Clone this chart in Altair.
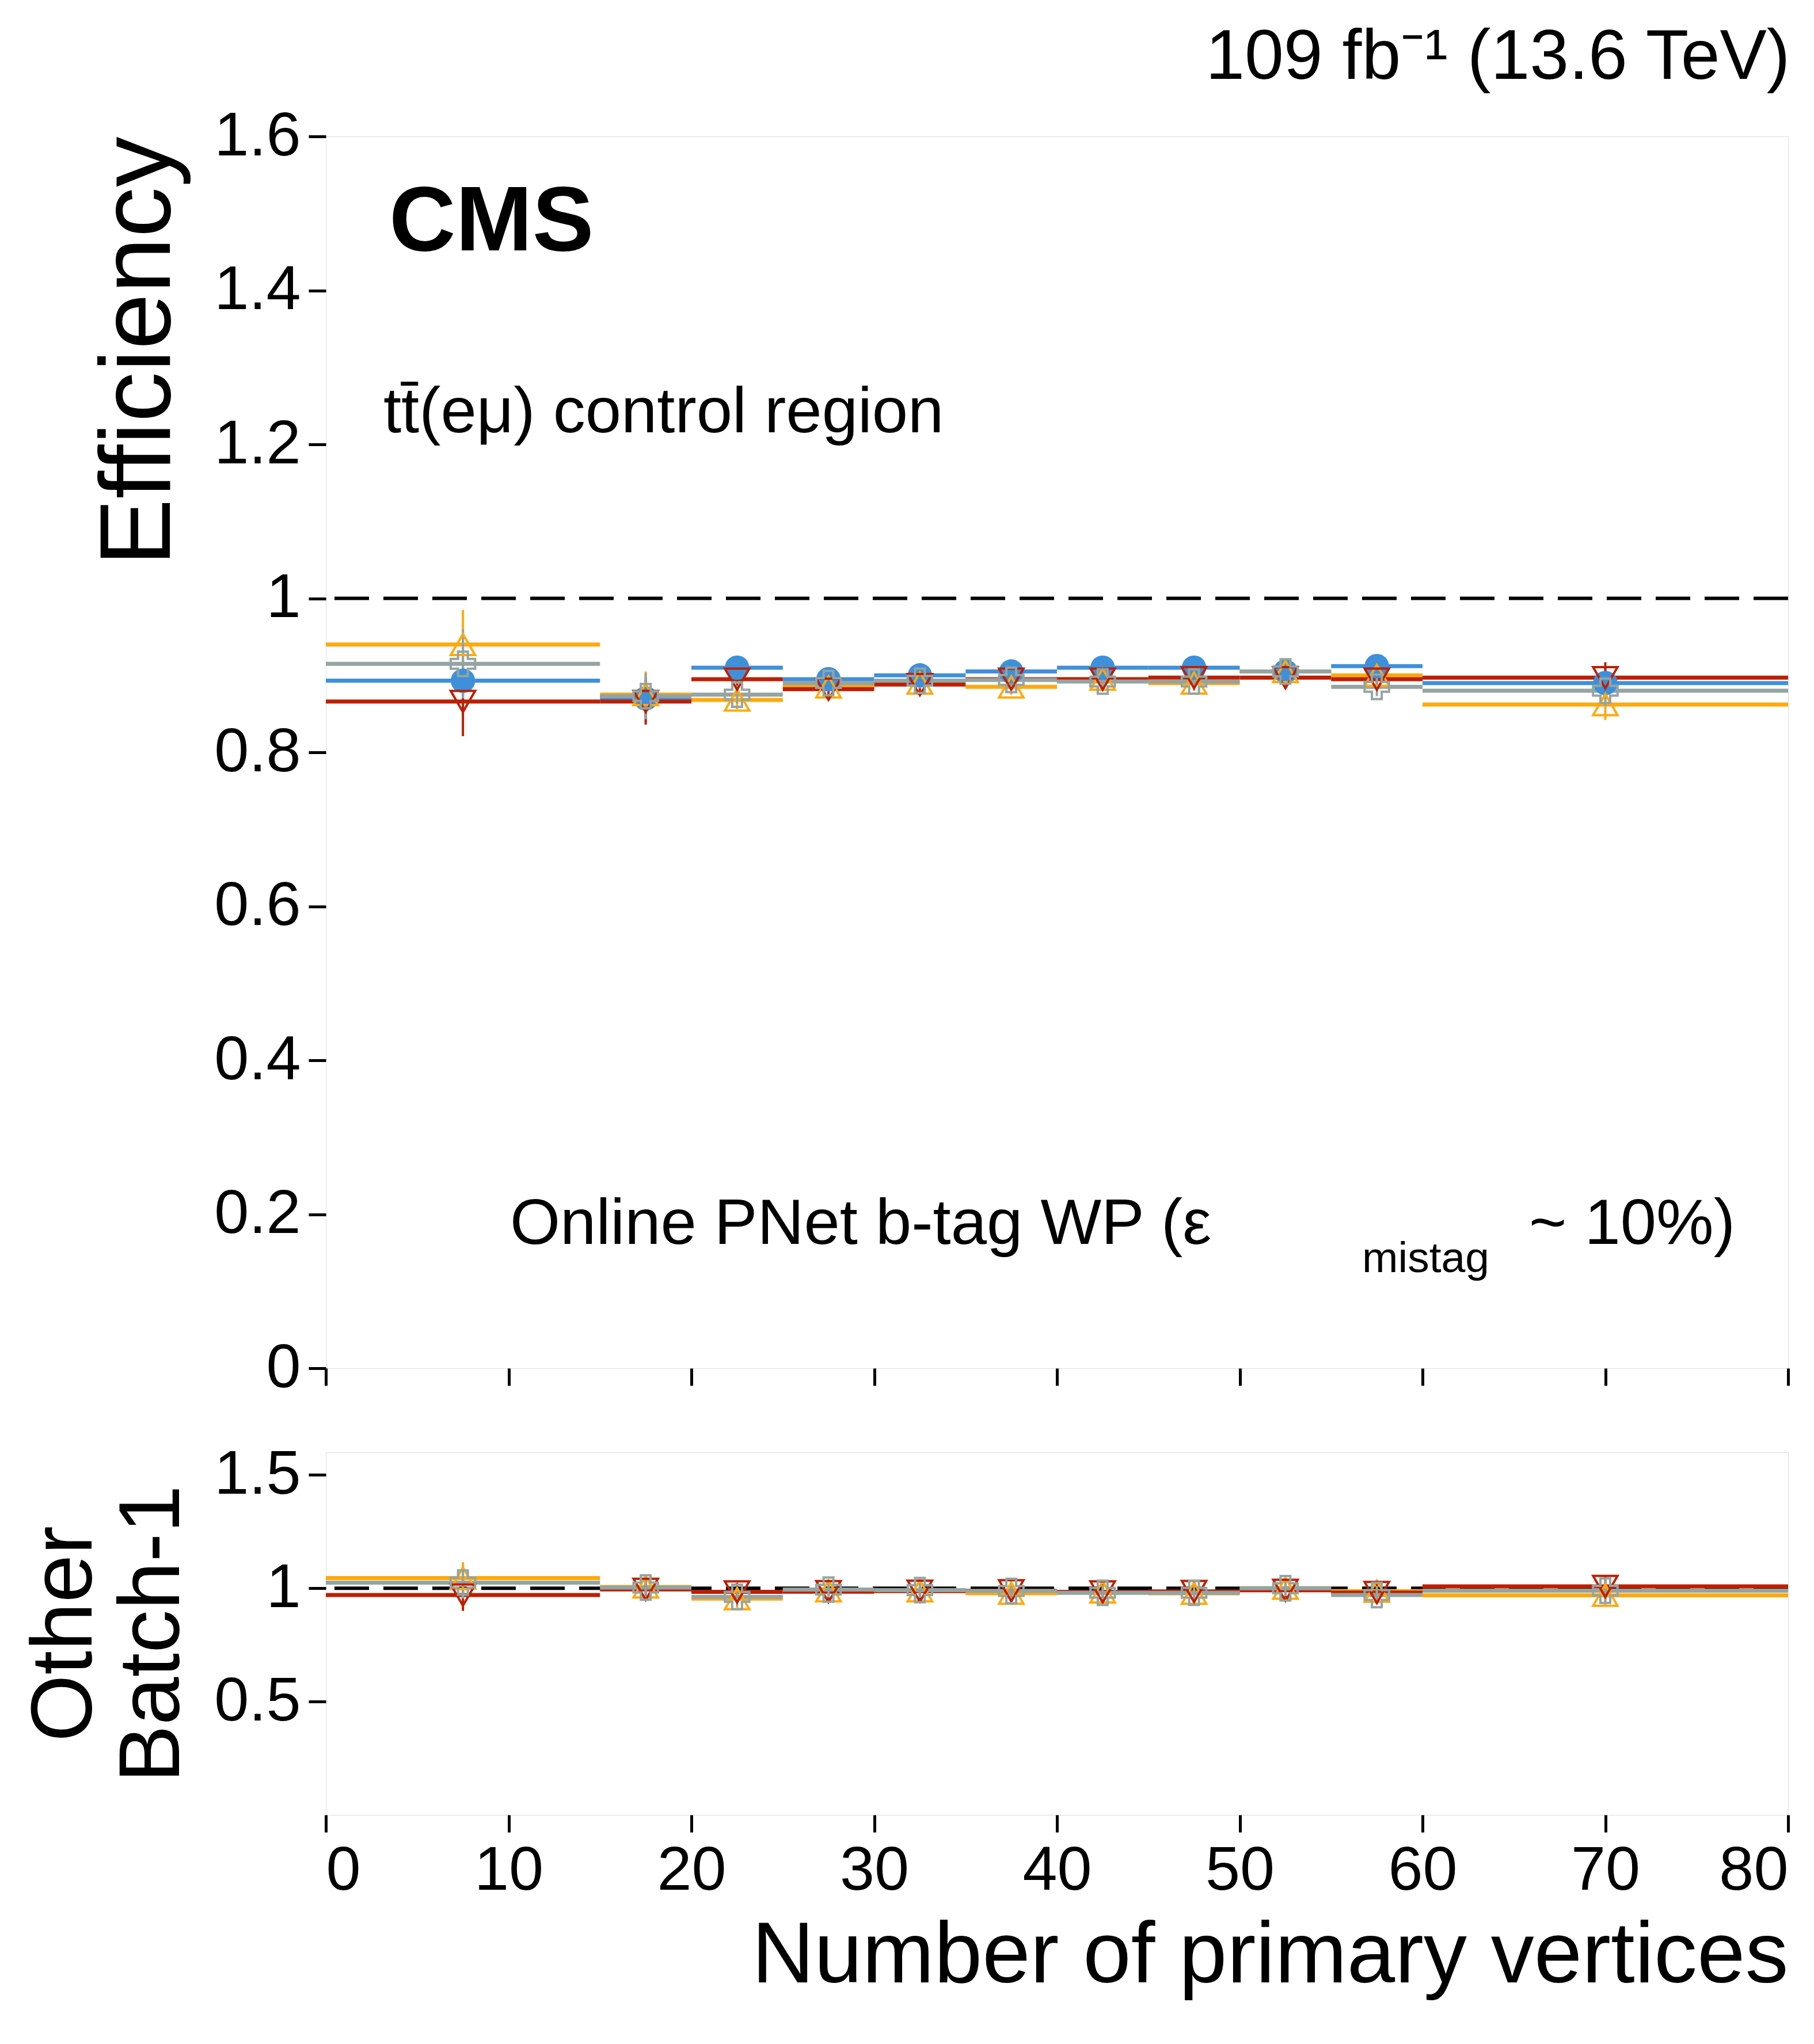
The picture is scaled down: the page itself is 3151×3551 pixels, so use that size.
import pandas as pd
import altair as alt

# bins in number of primary vertices
bin_lo = [0, 15, 20, 25, 30, 35, 40, 45, 50, 55, 60]
bin_hi = [15, 20, 25, 30, 35, 40, 45, 50, 55, 60, 80]

eff_b1 = [0.893, 0.870, 0.910, 0.895, 0.900, 0.905, 0.910, 0.910, 0.905, 0.912, 0.890]
eff_b2 = [0.940, 0.875, 0.868, 0.885, 0.890, 0.885, 0.895, 0.890, 0.905, 0.900, 0.862]
eff_b3 = [0.866, 0.866, 0.895, 0.882, 0.888, 0.895, 0.895, 0.897, 0.897, 0.895, 0.897]
eff_b4 = [0.915, 0.873, 0.875, 0.890, 0.893, 0.894, 0.892, 0.892, 0.905, 0.885, 0.880]
eff_err = [0.045, 0.030, 0.012, 0.010, 0.010, 0.010, 0.010, 0.010, 0.010, 0.012, 0.020]

ratio_b2 = [1.045, 1.006, 0.954, 0.989, 0.989, 0.978, 0.984, 0.978, 1.000, 0.987, 0.969]
ratio_b3 = [0.970, 0.995, 0.984, 0.985, 0.987, 0.989, 0.984, 0.986, 0.991, 0.981, 1.008]
ratio_b4 = [1.025, 1.003, 0.962, 0.994, 0.992, 0.988, 0.980, 0.980, 1.000, 0.970, 0.989]
ratio_err = [0.07, 0.05, 0.04, 0.035, 0.035, 0.035, 0.035, 0.035, 0.035, 0.04, 0.05]

names = ["Batch-1 (26.5 fb⁻¹)", "Batch-2 (27.8 fb⁻¹)", "Batch-3 (26.0 fb⁻¹)", "Batch-4 (26.9 fb⁻¹)"]
colors = ["#3f90da", "#ffa90e", "#bd1f01", "#94a4a2"]
shapes = ["circle", "triangle-up", "triangle-down", "cross"]
fills = [True, False, False, False]

FONT = "Liberation Sans"
W = 2540


def frame(series_list, err):
    rows = []
    for name, vals in series_list:
        for i in range(len(bin_lo)):
            rows.append({"s": name, "lo": bin_lo[i], "hi": bin_hi[i],
                         "c": (bin_lo[i] + bin_hi[i]) / 2, "v": vals[i],
                         "d": vals[i] - err[i], "u": vals[i] + err[i]})
    return pd.DataFrame(rows)


top_df = frame(list(zip(names, [eff_b1, eff_b2, eff_b3, eff_b4])), eff_err)
rat_df = frame(list(zip(names[1:], [ratio_b2, ratio_b3, ratio_b4])), ratio_err)

col_scale = alt.Scale(domain=names, range=colors)
shp_scale = alt.Scale(domain=names, range=shapes)
xs = alt.Scale(domain=[0, 80], nice=False)


def layers(df, ydom, yaxis, xaxis, legend):
    ys = alt.Scale(domain=ydom, nice=False)
    base = alt.Chart(df)
    hline = base.mark_rule(strokeWidth=7).encode(
        x=alt.X("lo:Q", scale=xs, axis=xaxis), x2="hi", y=alt.Y("v:Q", scale=ys, axis=yaxis),
        color=alt.Color("s:N", scale=col_scale, legend=None))
    vline = base.mark_rule(strokeWidth=4).encode(
        x="c:Q", y="d:Q", y2="u", color=alt.Color("s:N", scale=col_scale, legend=None))
    pts_list = []
    for n, f in zip(names, fills):
        sub = df[df.s == n]
        if len(sub) == 0:
            continue
        pts_list.append(alt.Chart(sub).mark_point(
            size=1800, filled=f, strokeWidth=4, opacity=1).encode(
            x="c:Q", y="v:Q",
            color=alt.Color("s:N", scale=col_scale, legend=legend, title=None),
            shape=alt.Shape("s:N", scale=shp_scale, legend=legend, title=None)))
    one = alt.Chart(pd.DataFrame({"one": [1.0]})).mark_rule(
        color="black", strokeWidth=6, strokeDash=[60, 25]).encode(y="one:Q")
    return alt.layer(one, hline, vline, *pts_list)


legend = alt.Legend(orient="none", legendX=1290, legendY=40, labelFontSize=112,
                    labelFont=FONT, symbolSize=1800, symbolStrokeWidth=4,
                    rowPadding=45, labelOffset=30, labelLimit=1500)

tick_kw = dict(labelFontSize=108, labelFont=FONT, labelColor="black", tickColor="black",
               tickWidth=5, tickSize=30, domain=False, grid=False, labelPadding=14)

top_y = alt.Axis(values=[0, 0.2, 0.4, 0.6, 0.8, 1, 1.2, 1.4, 1.6], title="Efficiency",
                 titleFontSize=175, titleFont=FONT, titleFontWeight="normal",
                 titleColor="black", titleAnchor="end", titlePadding=40,
                 labelExpr="datum.value == 1 ? '1' : datum.value == 0 ? '0' : format(datum.value, '.1f')",
                 **tick_kw)
top_x = alt.Axis(values=list(range(0, 81, 10)), labels=False, title=None, **tick_kw)

top = layers(top_df, [0, 1.6], top_y, top_x, legend)

texts = pd.DataFrame({
    "t": ["CMS", "tt̄(eμ) control region", "Online PNet b-tag WP (ε", "mistag", "~ 10%)"],
    "px": [110, 100, 320, 1800, 2090], "py": [150, 480, 1890, 1950, 1890],
    "fs": [160, 112, 112, 75, 112], "fw": ["bold", "normal", "normal", "normal", "normal"]})
ann = []
for _, r in texts.iterrows():
    ann.append(alt.Chart(pd.DataFrame({"t": [r.t]})).mark_text(
        align="left", baseline="middle", font=FONT, fontSize=int(r.fs),
        fontWeight=r.fw, color="black").encode(
        x=alt.value(int(r.px)), y=alt.value(int(r.py)), text="t:N"))
top = alt.layer(top, *ann).properties(
    width=W, height=2140,
    title=alt.TitleParams("109 fb⁻¹ (13.6 TeV)", anchor="end", fontSize=122,
                          font=FONT, fontWeight="normal", color="black", offset=20))

rat_y = alt.Axis(values=[0.5, 1, 1.5], title=["Other", "Batch-1"],
                 titleFontSize=150, titleFont=FONT, titleFontWeight="normal",
                 titleColor="black", titlePadding=30,
                 labelExpr="datum.value == 1 ? '1' : format(datum.value, '.1f')", **tick_kw)
rat_x = alt.Axis(values=list(range(0, 81, 10)), title="Number of primary vertices",
                 titleFontSize=150, titleFont=FONT, titleFontWeight="normal",
                 titleColor="black", titleAnchor="end", titlePadding=20, **tick_kw)
ratio = layers(rat_df, [0.4, 1.6], rat_y, rat_x, None).properties(width=W, height=630)

chart = alt.vconcat(top, ratio, spacing=75).resolve_scale(
    color="independent", shape="independent", x="independent").configure_view(
    stroke="black", strokeWidth=6).configure(background="white", padding=30)

chart.save("out.html", embed_options={"renderer": "svg", "actions": False})
